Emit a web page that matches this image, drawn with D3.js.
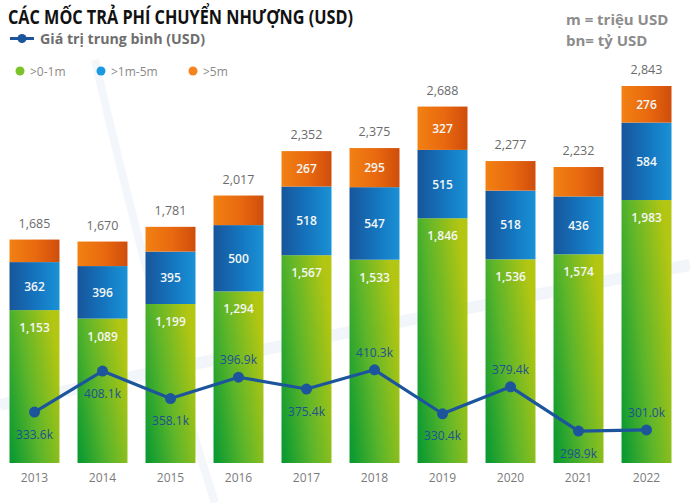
<!DOCTYPE html>
<html>
<head>
<meta charset="utf-8">
<script src="https://cdn.jsdelivr.net/npm/d3@7/dist/d3.min.js"></script>
<style>
  html, body { margin: 0; padding: 0; background: #ffffff; }
  svg { display: block; font-family: "Open Sans", "Noto Sans", sans-serif; }
</style>
</head>
<body>
<svg id="chart" width="690" height="503"></svg>
<script>
// ---- data ----
const years = ["2013","2014","2015","2016","2017","2018","2019","2020","2021","2022"];
const seriesNames = [">0-1m", ">1m-5m", ">5m"];
const small = [1153, 1089, 1199, 1294, 1567, 1533, 1846, 1536, 1574, 1983];
const mid = [362, 396, 395, 500, 518, 547, 515, 518, 436, 584];
const totals = [1685, 1670, 1781, 2017, 2352, 2375, 2688, 2277, 2232, 2843];
const large = totals.map((t, i) => t - small[i] - mid[i]);
const showLargeLabel = [false, false, false, false, true, true, true, false, false, true];
const average = [333.6, 408.1, 358.1, 396.9, 375.4, 410.3, 330.4, 379.4, 298.9, 301.0];
const avgLabelSide = ["below","below","below","above","below","above","below","above","below","above"];

const svg = d3.select("#chart");
const defs = svg.append("defs");

function grad(id, stops, x1, y1, x2, y2) {
  const g = defs.append("linearGradient").attr("id", id)
    .attr("x1", x1).attr("y1", y1).attr("x2", x2).attr("y2", y2);
  stops.forEach(s => g.append("stop").attr("offset", s[0]).attr("stop-color", s[1]));
}
grad("gGreen", [[0, "#0d9b31"], [0.45, "#5cb52a"], [1, "#b3c612"]], 0, 0.85, 1, 0.35);
grad("gBlue", [[0, "#18559b"], [0.55, "#1476c0"], [1, "#1a92d6"]], 0, 0, 1, 0);
grad("gOrange", [[0, "#f28112"], [0.55, "#e8680f"], [1, "#cf4d0c"]], 0, 0, 1, 0);

// faint decorative background swooshes
svg.append("path")
  .attr("d", "M 95 60 Q 150 300 215 503")
  .attr("fill", "none").attr("stroke", "#f3f6fa").attr("stroke-width", 8);
svg.append("path")
  .attr("d", "M 0 405 Q 350 330 690 265")
  .attr("fill", "none").attr("stroke", "#f2f6fa").attr("stroke-width", 12);

// scales
const x = d3.scaleBand().domain(years).range([9.5, 671.5]).paddingInner(0.265).paddingOuter(0);
const y = d3.scaleLinear().domain([0, 2843]).range([463, 86]);
const yAvg = d3.scaleLinear().domain([250, 450]).range([458, 348]);

const stackData = years.map((yr, i) => ({ year: yr, small: small[i], mid: mid[i], large: large[i] }));
const stacked = d3.stack().keys(["small", "mid", "large"])(stackData);
const fills = { small: "url(#gGreen)", mid: "url(#gBlue)", large: "url(#gOrange)" };

const layers = svg.append("g").selectAll("g").data(stacked).join("g")
  .attr("fill", d => fills[d.key]);
layers.selectAll("rect").data(d => d).join("rect")
  .attr("x", d => x(d.data.year))
  .attr("width", x.bandwidth())
  .attr("y", d => y(d[1]))
  .attr("height", d => y(d[0]) - y(d[1]));

// segment labels
const segLabels = svg.append("g").attr("fill", "#f5f7f5").attr("font-size", 12)
  .attr("text-anchor", "middle").attr("font-weight", 600);
const fmt = d3.format(",");
years.forEach((yr, i) => {
  const cx = x(yr) + x.bandwidth() / 2;
  segLabels.append("text").attr("x", cx).attr("y", y(small[i]) + 22).text(fmt(small[i]));
  segLabels.append("text").attr("x", cx).attr("y", (y(small[i]) + y(small[i] + mid[i])) / 2 + 4.5).text(fmt(mid[i]));
  if (showLargeLabel[i]) {
    segLabels.append("text").attr("x", cx).attr("y", (y(totals[i]) + y(small[i] + mid[i])) / 2 + 4.5).text(fmt(large[i]));
  }
});

// total labels
svg.append("g").attr("fill", "#6b6b6b").attr("font-size", 12.5).attr("text-anchor", "middle")
  .selectAll("text").data(years).join("text")
  .attr("x", d => x(d) + x.bandwidth() / 2)
  .attr("y", (d, i) => y(totals[i]) - 12)
  .text((d, i) => fmt(totals[i]));

// x axis labels
const xAxis = d3.axisBottom(x).tickSize(0).tickPadding(0);
const xg = svg.append("g").attr("transform", "translate(0,473)").call(xAxis);
xg.select(".domain").remove();
xg.selectAll("text").attr("fill", "#7a7a7a").attr("font-size", 12)
  .attr("font-family", "'Open Sans', sans-serif");

// average line
const lineColor = "#1c559c";
const line = d3.line().x((d, i) => x(years[i]) + x.bandwidth() / 2).y(d => yAvg(d));
svg.append("path").datum(average).attr("d", line)
  .attr("fill", "none").attr("stroke", lineColor).attr("stroke-width", 3.2).attr("stroke-linejoin", "round");
svg.append("g").selectAll("circle").data(average).join("circle")
  .attr("cx", (d, i) => x(years[i]) + x.bandwidth() / 2)
  .attr("cy", d => yAvg(d)).attr("r", 5.5).attr("fill", lineColor);
svg.append("g").attr("fill", "#1d5190").attr("font-size", 12).attr("text-anchor", "middle")
  .selectAll("text").data(average).join("text")
  .attr("x", (d, i) => x(years[i]) + x.bandwidth() / 2)
  .attr("y", (d, i) => avgLabelSide[i] === "below" ? yAvg(d) + 26.5 : yAvg(d) - 13)
  .text(d => d.toFixed(1) + "k");

// title
svg.append("text").attr("x", 8).attr("y", 24)
  .attr("font-size", 19).attr("font-weight", 700).attr("fill", "#111")
  .attr("textLength", 345).attr("lengthAdjust", "spacingAndGlyphs")
  .text("CÁC MỐC TRẢ PHÍ CHUYỂN NHƯỢNG (USD)");

// line legend
svg.append("line").attr("x1", 10).attr("x2", 34).attr("y1", 38.5).attr("y2", 38.5)
  .attr("stroke", lineColor).attr("stroke-width", 3);
svg.append("circle").attr("cx", 22).attr("cy", 38.5).attr("r", 4.5).attr("fill", lineColor);
svg.append("text").attr("x", 40).attr("y", 44).attr("font-size", 14.5).attr("font-weight", 700)
  .attr("fill", "#6e6e6e").attr("textLength", 165).attr("lengthAdjust", "spacingAndGlyphs")
  .text("Giá trị trung bình (USD)");

// series legend
const legendX = [20, 101, 193];
const legendColors = ["#7cc22a", "#1b98e0", "#f5841f"];
const lg = svg.append("g");
seriesNames.forEach((n, i) => {
  lg.append("circle").attr("cx", legendX[i]).attr("cy", 71).attr("r", 4.5).attr("fill", legendColors[i]);
  lg.append("text").attr("x", legendX[i] + 10).attr("y", 75.5).attr("font-size", 12)
    .attr("fill", "#8a8a8a").text(n);
});

// unit notes
const notes = svg.append("g").attr("fill", "#8c8c8c").attr("font-size", 15).attr("font-weight", 700);
notes.append("text").attr("x", 566).attr("y", 25).text("m = triệu USD");
notes.append("text").attr("x", 566).attr("y", 46).text("bn= tỷ USD");
</script>
</body>
</html>
